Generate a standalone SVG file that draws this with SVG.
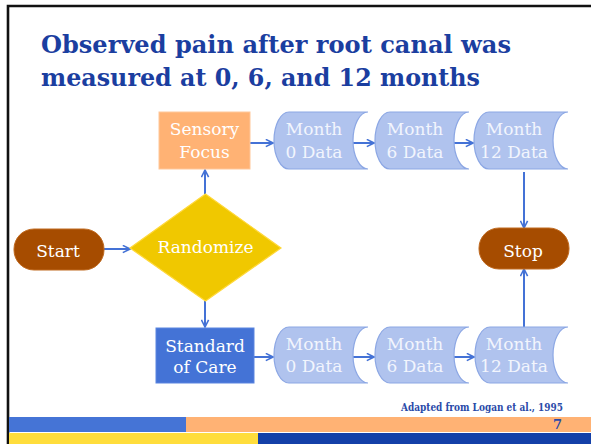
<svg xmlns="http://www.w3.org/2000/svg" width="591" height="444" viewBox="0 0 591 444">
<defs>
<style>
.title{font-family:"DejaVu Serif","Liberation Serif",serif;font-weight:bold;font-size:24px;fill:#1b3ea0}
.lbl{font-family:"DejaVu Serif","Liberation Serif",serif;font-size:17px;fill:#ffffff;text-anchor:middle}
.dlbl{font-family:"DejaVu Serif","Liberation Serif",serif;font-size:17px;fill:#f2f5fd;text-anchor:middle}
.data{fill:#b0c3ee;stroke:#8ca7e4;stroke-width:1.2}
.term{fill:#a64c00;stroke:#c06a20;stroke-width:1}
.conn{stroke:#4472d6;stroke-width:2;fill:none;marker-end:url(#ah)}
.foot{font-family:"DejaVu Serif","Liberation Serif",serif;font-weight:bold;fill:#2a4aa8}
</style>
<marker id="ah" viewBox="0 0 10 10" refX="9" refY="5" markerWidth="9" markerHeight="9" markerUnits="userSpaceOnUse" orient="auto">
<path d="M1,1 L9,5 L1,9" fill="none" stroke="#4472d6" stroke-width="1.8"/>
</marker>
</defs>
<rect x="0" y="0" width="591" height="444" fill="#ffffff"/>
<path d="M8,444 V6 H591" fill="none" stroke="#111111" stroke-width="2.6"/>

<text class="title" x="41" y="53" textLength="470" lengthAdjust="spacingAndGlyphs">Observed pain after root canal was</text>
<text class="title" x="41" y="86" textLength="439" lengthAdjust="spacingAndGlyphs">measured at 0, 6, and 12 months</text>

<g id="connectors">
<line class="conn" x1="104" y1="249" x2="130" y2="249"/>
<line class="conn" x1="205" y1="194" x2="205" y2="170"/>
<line class="conn" x1="205" y1="301" x2="205" y2="327"/>
<line class="conn" x1="250" y1="143" x2="273" y2="143"/>
<line class="conn" x1="353" y1="143" x2="374" y2="143"/>
<line class="conn" x1="454" y1="143" x2="473" y2="143"/>
<line class="conn" x1="524" y1="172" x2="524" y2="228"/>
<line class="conn" x1="524" y1="327" x2="524" y2="269"/>
<line class="conn" x1="254" y1="357" x2="273" y2="357"/>
<line class="conn" x1="353" y1="357" x2="374" y2="357"/>
<line class="conn" x1="454" y1="357" x2="474" y2="357"/>
</g>

<g id="start">
<rect class="term" x="14" y="229" width="90" height="41" rx="20" ry="20"/>
<text class="lbl" x="58" y="257">Start</text>
</g>

<g id="randomize">
<polygon points="130,248 205.5,194 281,248 205.5,301" fill="#f0c800" stroke="#ffd83a" stroke-width="1.2"/>
<text class="lbl" x="205.5" y="253">Randomize</text>
</g>

<g id="sensory">
<rect x="159" y="112" width="91" height="57" fill="#ffb274" stroke="#ffc79a" stroke-width="1"/>
<text class="lbl" x="204.5" y="135">Sensory</text>
<text class="lbl" x="204.5" y="158">Focus</text>
</g>

<g id="standard">
<rect x="156" y="328" width="98" height="55" fill="#4473d6" stroke="#5a85e0" stroke-width="1"/>
<text class="lbl" x="205" y="352">Standard</text>
<text class="lbl" x="205" y="373">of Care</text>
</g>

<g id="top-m0">
<path class="data" d="M289,112 H368 A15,28.5 0 0 0 368,169 H289 A15,28.5 0 0 1 289,112 Z"/>
<text class="dlbl" x="314" y="135">Month</text>
<text class="dlbl" x="314" y="158">0 Data</text>
</g>
<g id="top-m6">
<path class="data" d="M390,112 H469 A15,28.5 0 0 0 469,169 H390 A15,28.5 0 0 1 390,112 Z"/>
<text class="dlbl" x="415" y="135">Month</text>
<text class="dlbl" x="415" y="158">6 Data</text>
</g>
<g id="top-m12">
<path class="data" d="M489,112 H568 A15,28.5 0 0 0 568,169 H489 A15,28.5 0 0 1 489,112 Z"/>
<text class="dlbl" x="514" y="135">Month</text>
<text class="dlbl" x="514" y="158">12 Data</text>
</g>

<g id="bot-m0">
<path class="data" d="M289,327 H368 A15,28 0 0 0 368,383 H289 A15,28 0 0 1 289,327 Z"/>
<text class="dlbl" x="314" y="350">Month</text>
<text class="dlbl" x="314" y="372">0 Data</text>
</g>
<g id="bot-m6">
<path class="data" d="M390,327 H469 A15,28 0 0 0 469,383 H390 A15,28 0 0 1 390,327 Z"/>
<text class="dlbl" x="415" y="350">Month</text>
<text class="dlbl" x="415" y="372">6 Data</text>
</g>
<g id="bot-m12">
<path class="data" d="M490,327 H568 A15,28 0 0 0 568,383 H490 A15,28 0 0 1 490,327 Z"/>
<text class="dlbl" x="514" y="350">Month</text>
<text class="dlbl" x="514" y="372">12 Data</text>
</g>

<g id="stop">
<rect class="term" x="479" y="228" width="90" height="41" rx="20" ry="20"/>
<text class="lbl" x="523" y="257">Stop</text>
</g>

<text class="foot" x="563" y="411" font-size="10.5" text-anchor="end" textLength="162" lengthAdjust="spacingAndGlyphs">Adapted from Logan et al., 1995</text>

<rect x="9" y="417" width="177" height="15" fill="#4574d6"/>
<rect x="186" y="417" width="405" height="15" fill="#ffb274"/>
<rect x="9" y="433" width="249" height="11" fill="#ffdd3c"/>
<rect x="258" y="433" width="333" height="11" fill="#1440a8"/>
<text class="foot" x="562" y="429" font-size="13" text-anchor="end">7</text>
</svg>
